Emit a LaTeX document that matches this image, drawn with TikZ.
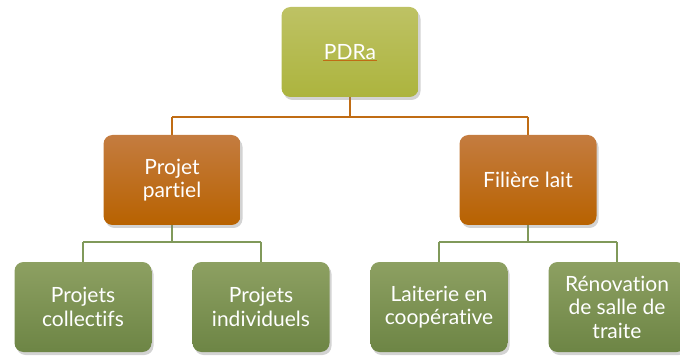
\documentclass[tikz,border=0pt]{standalone}
\usepackage{fontspec}
\setmainfont[Ligatures=NoCommon]{Lato}
\usetikzlibrary{shadows}
\definecolor{oliveT}{HTML}{BEC264}
\definecolor{oliveB}{HTML}{ACB43E}
\definecolor{orangeT}{HTML}{C47C40}
\definecolor{orangeB}{HTML}{B86200}
\definecolor{greenT}{HTML}{8DA062}
\definecolor{greenB}{HTML}{6D8545}
\definecolor{lineOr}{HTML}{C06C14}
\definecolor{lineGr}{HTML}{80995A}
\tikzset{
  box/.style={rounded corners=9pt, minimum width=137pt, minimum height=90pt,
    align=center, text=white, font=\fontsize{21}{23.5}\selectfont,
    drop shadow={shadow xshift=2pt, shadow yshift=-3pt, opacity=0.35}},
  topbox/.style={box, top color=oliveT, bottom color=oliveB},
  midbox/.style={box, top color=orangeT, bottom color=orangeB},
  lowbox/.style={box, top color=greenT, bottom color=greenB},
  orline/.style={draw=lineOr, line width=2pt},
  grline/.style={draw=lineGr, line width=2pt},
}
\begin{document}
\begin{tikzpicture}[x=1pt,y=-1pt]
\useasboundingbox (0,0) rectangle (680,358);
\coordinate (jA) at (350,117);
\coordinate (jL) at (172,117);
\coordinate (jR) at (528,117);
\coordinate (gL1) at (83,242);
\coordinate (gL2) at (261,242);
\coordinate (gLm) at (172,242);
\coordinate (gR1) at (439,242);
\coordinate (gR2) at (617,242);
\coordinate (gRm) at (528,242);
\draw[orline] (350,97) -- (jA);
\draw[orline] (jL) -- (jR);
\draw[orline] (jL) -- (172,135);
\draw[orline] (jR) -- (528,135);
\draw[grline] (172,225) -- (gLm);
\draw[grline] (gL1) -- (gL2);
\draw[grline] (gL1) -- (83,262);
\draw[grline] (gL2) -- (261,262);
\draw[grline] (528,225) -- (gRm);
\draw[grline] (gR1) -- (gR2);
\draw[grline] (gR1) -- (439,262);
\draw[grline] (gR2) -- (617,262);
\node[topbox] (pdra) at (350,52) {PDRa};
\draw[draw=lineOr, line width=0.7pt] ([xshift=-27pt,yshift=-8pt]pdra.center) -- ([xshift=27pt,yshift=-8pt]pdra.center);
\node[midbox] (pp) at (172,180) {Projet\\partiel};
\node[midbox] (fl) at (528,180) {Filière lait};
\node[lowbox] (pc) at (83,307) {Projets\\collectifs};
\node[lowbox] (pi) at (261,307) {Projets\\individuels};
\node[lowbox] (lc) at (439,307) {Laiterie en\\coopérative};
\node[lowbox] (rs) at (617,307) {Rénovation\\de salle de\\traite};
\end{tikzpicture}
\end{document}
